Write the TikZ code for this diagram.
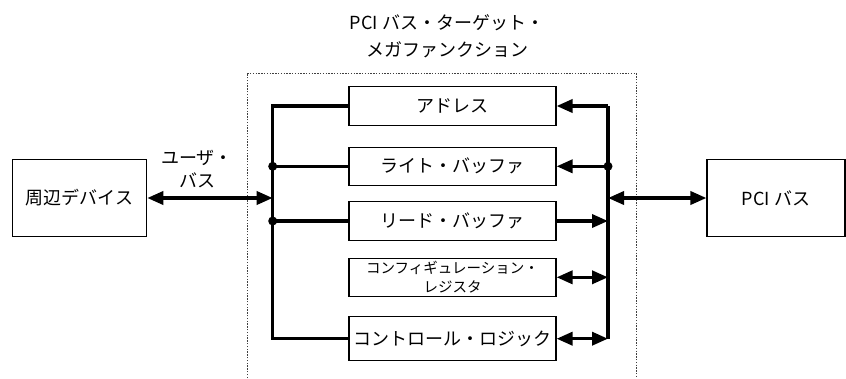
\documentclass[tikz,border=0pt]{standalone}
\usepackage{fontspec}
\setmainfont{Noto Sans CJK JP}
\usetikzlibrary{arrows.meta,positioning}

\tikzset{
	block/.style = {draw, line width = 1.1pt, inner sep = 0pt, font = \fontsize{18}{22}\selectfont},
	bus/.style = {line width = 3.5pt},
	arrowone/.style = {bus, -{Triangle[length = 16pt, width = 13pt]}},
	arrowtwo/.style = {bus, {Triangle[length = 16pt, width = 13pt]}-{Triangle[length = 16pt, width = 13pt]}},
	junction/.style = {circle, fill, inner sep = 0pt, minimum size = 9pt},
	frame/.style = {line width = 0.8pt, black!75, dash pattern = on 1.4pt off 1.4pt},
	caption/.style = {align = center, font = \fontsize{18}{27}\selectfont}
}

\begin{document}
\begin{tikzpicture}[x = 1pt, y = -1pt]

	% Definition
	
	\def\W{207}
	\useasboundingbox (0, 0) rectangle (846, 378);
	
	% Megafunction frame
	
	\draw [frame] (247, 378) |- (636, 73) -- (636, 378);
	\node [caption] (title) at (447, 36) {PCI バス・ターゲット・\\メガファンクション};
	
	% Blocks
	
	\node [block, minimum width = \W, minimum height = 38.5] (addr) at (452.5, 106) {アドレス};
	\node [block, minimum width = \W, minimum height = 38.5] (wbuf) at (452.5, 166.3) {ライト・バッファ};
	\node [block, minimum width = \W, minimum height = 38.5] (rbuf) at (452.5, 221) {リード・バッファ};
	\node [block, minimum width = \W, minimum height = 38.5, align = center, font = \fontsize{14.5}{19}\selectfont] (conf) at (452.5, 277.3) {コンフィギュレーション・\\レジスタ};
	\node [block, minimum width = \W, minimum height = 44] (ctrl) at (452.5, 338.7) {コントロール・ロジック};
	
	\node [block, minimum width = 134, minimum height = 77.4] (dev) at (79.7, 198) {周辺デバイス};
	\node [block, minimum width = 138, minimum height = 77.4] (pci) at (776, 198) {PCI バス};
	
	% User side bus
	
	\coordinate (lb) at (272.7, 220);
	\draw [bus] (addr.west) -| (lb) |- (ctrl.west);
	\draw [bus] (lb |- wbuf.west) coordinate (lw) -- (wbuf.west);
	\draw [bus] (lb |- rbuf.west) coordinate (lr) -- (rbuf.west);
	\node [junction] (lwdot) at (lw) {};
	\node [junction] (lrdot) at (lr) {};
	
	\draw [arrowtwo] (dev.east) -- (lb |- dev.east);
	\node [caption, font = \fontsize{18}{23}\selectfont] (ubus) at (197, 169) {ユーザ・\\バス};
	
	% PCI side bus
	
	\coordinate (rb) at (608, 220);
	\draw [bus] (rb |- addr.east) -- (rb |- ctrl.east);
	\draw [arrowone] (rb |- addr.east) -- (addr.east);
	\draw [arrowone] (rb |- wbuf.east) coordinate (rw) -- (wbuf.east);
	\draw [arrowone] (rbuf.east) -- (rb |- rbuf.east);
	\draw [arrowtwo] (conf.east) -- (rb |- conf.east);
	\draw [arrowtwo] (ctrl.east) -- (rb |- ctrl.east);
	\node [junction] (rwdot) at (rw) {};
	
	\draw [arrowtwo] (rb |- pci.west) -- (pci.west);

\end{tikzpicture}
\end{document}
